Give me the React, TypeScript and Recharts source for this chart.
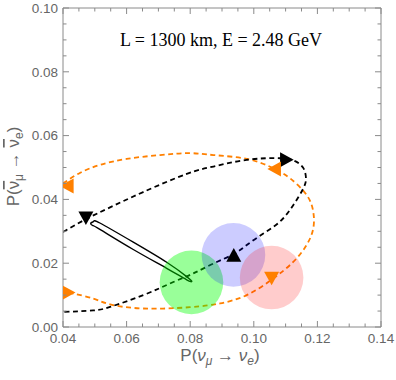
import React from "react";
import { ComposedChart, Line, Scatter, XAxis, YAxis } from "recharts";

// axis ticks (minor every 0.005, labels every 0.02)
const xTicks = [0.04, 0.045, 0.05, 0.055, 0.06, 0.065, 0.07, 0.075, 0.08, 0.085, 0.09, 0.095, 0.1, 0.105, 0.11, 0.115, 0.12, 0.125, 0.13, 0.135, 0.14];
const yTicks = [0, 0.005, 0.01, 0.015, 0.02, 0.025, 0.03, 0.035, 0.04, 0.045, 0.05, 0.055, 0.06, 0.065, 0.07, 0.075, 0.08, 0.085, 0.09, 0.095, 0.1];
const xLabelled = [0.04, 0.06, 0.08, 0.1, 0.12, 0.14];
const yLabelled = [0, 0.02, 0.04, 0.06, 0.08, 0.1];

// black dashed ellipse
const blackDashed = [
  { x: 0.04, y: 0.0298 }, { x: 0.0472, y: 0.0338 }, { x: 0.0548, y: 0.0375 }, { x: 0.0652, y: 0.0423 },
  { x: 0.0789, y: 0.048 }, { x: 0.0873, y: 0.0503 }, { x: 0.0978, y: 0.0524 }, { x: 0.1082, y: 0.0529 },
  { x: 0.113, y: 0.052 }, { x: 0.1156, y: 0.0498 }, { x: 0.1164, y: 0.0466 }, { x: 0.1156, y: 0.0435 },
  { x: 0.1124, y: 0.0382 }, { x: 0.1082, y: 0.033 }, { x: 0.103, y: 0.0293 }, { x: 0.0978, y: 0.0257 },
  { x: 0.0936, y: 0.0228 }, { x: 0.0873, y: 0.0199 }, { x: 0.081, y: 0.0168 }, { x: 0.0747, y: 0.0141 },
  { x: 0.0653, y: 0.01 }, { x: 0.0548, y: 0.0063 }, { x: 0.0495, y: 0.0052 }, { x: 0.04, y: 0.0047 },
];

// orange dashed ellipse
const orangeDashed = [
  { x: 0.04, y: 0.045 }, { x: 0.0453, y: 0.0483 }, { x: 0.0516, y: 0.0508 }, { x: 0.06, y: 0.0527 },
  { x: 0.0705, y: 0.0539 }, { x: 0.0799, y: 0.0545 }, { x: 0.0873, y: 0.0539 }, { x: 0.0978, y: 0.0527 },
  { x: 0.1061, y: 0.0498 }, { x: 0.1114, y: 0.0466 }, { x: 0.1166, y: 0.0414 }, { x: 0.1187, y: 0.0361 },
  { x: 0.1187, y: 0.0309 }, { x: 0.1166, y: 0.0257 }, { x: 0.1124, y: 0.0204 }, { x: 0.1061, y: 0.0152 },
  { x: 0.0978, y: 0.01 }, { x: 0.0894, y: 0.0074 }, { x: 0.0799, y: 0.0062 }, { x: 0.0653, y: 0.0058 },
  { x: 0.0548, y: 0.0071 }, { x: 0.0495, y: 0.0089 }, { x: 0.0432, y: 0.0105 }, { x: 0.04, y: 0.011 },
];

// thin solid ellipse
const blackSolid = [
  { x: 0.0621, y: 0.0266 }, { x: 0.0726, y: 0.0203 }, { x: 0.0789, y: 0.0158 }, { x: 0.0805, y: 0.0143 },
  { x: 0.0789, y: 0.0148 }, { x: 0.0726, y: 0.0184 }, { x: 0.0621, y: 0.0243 }, { x: 0.0516, y: 0.0306 },
  { x: 0.0494, y: 0.0318 }, { x: 0.0487, y: 0.0325 }, { x: 0.0496, y: 0.0331 }, { x: 0.0516, y: 0.0326 },
  { x: 0.0621, y: 0.0266 },
];

// shaded regions (radius 0.01)
const greenSpot = [{ x: 0.0804, y: 0.014 }];
const blueSpot = [{ x: 0.0936, y: 0.0226 }];
const redSpot = [{ x: 0.1056, y: 0.0155 }];
const spotRadius = 0.01;

// arrow markers
const blackMarkers = [
  { x: 0.0472, y: 0.0341, dir: "down" },
  { x: 0.0937, y: 0.0226, dir: "up" },
  { x: 0.1104, y: 0.0524, dir: "right" },
];
const orangeMarkers = [
  { x: 0.1064, y: 0.0495, dir: "left" },
  { x: 0.1056, y: 0.0152, dir: "down" },
  { x: 0.0412, y: 0.0442, dir: "left" },
  { x: 0.0418, y: 0.0108, dir: "right" },
];

const W = 396;
const H = 380;
const M = { top: 7, right: 14, left: 0, bottom: 0 };
const YW = 63;
const XH = 53;
const PX_PER_UNIT = (W - M.right - 1 - YW) / 0.1;

const FRAME = "#8a8a8a";
const LABEL = "#666";
const SANS = "'Liberation Sans', Arial, sans-serif";

const near = (arr: number[], v: number) => arr.some((t) => Math.abs(t - v) < 1e-9);

const BottomTick = (p: any) => {
  const major = near(xLabelled, p.payload.value);
  return (
    <g>
      <line x1={p.x} x2={p.x} y1={p.y} y2={p.y - (major ? 6 : 3.5)} stroke={FRAME} />
      {major && (
        <text x={p.x} y={p.y + 16} textAnchor="middle" fill={LABEL} fontSize={13.5} fontFamily={SANS}>
          {p.payload.value.toFixed(2)}
        </text>
      )}
    </g>
  );
};
const TopTick = (p: any) => {
  const major = near(xLabelled, p.payload.value);
  return <line x1={p.x} x2={p.x} y1={p.y} y2={p.y + (major ? 6 : 3.5)} stroke={FRAME} />;
};
const LeftTick = (p: any) => {
  const major = near(yLabelled, p.payload.value);
  return (
    <g>
      <line x1={p.x} x2={p.x + (major ? 6 : 3.5)} y1={p.y} y2={p.y} stroke={FRAME} />
      {major && (
        <text x={p.x - 5} y={p.y} dy="0.36em" textAnchor="end" fill={LABEL} fontSize={13.5} fontFamily={SANS}>
          {p.payload.value.toFixed(2)}
        </text>
      )}
    </g>
  );
};
const RightTick = (p: any) => {
  const major = near(yLabelled, p.payload.value);
  return <line x1={p.x} x2={p.x - (major ? 6 : 3.5)} y1={p.y} y2={p.y} stroke={FRAME} />;
};

const XTitle = (p: any) => {
  const vb = p.viewBox;
  return (
    <g>
      <text x={vb.x + vb.width / 2 - 2} y={vb.y + 34} textAnchor="middle" fill={LABEL} fontSize={17} fontFamily={SANS}>
        P(<tspan fontStyle="italic">ν</tspan>
        <tspan fontStyle="italic" fontSize={12} dy={4}>μ</tspan>
        <tspan dy={-4}> → </tspan>
        <tspan fontStyle="italic">ν</tspan>
        <tspan fontStyle="italic" fontSize={12} dy={4}>e</tspan>
        <tspan dy={-4}>)</tspan>
      </text>
      {/* annotation inside the frame, placed relative to the plot top */}
      <text x={vb.x + vb.width / 2 - 1} y={vb.y - 281} textAnchor="middle" fill="#000" fontSize={18} fontFamily="'Liberation Serif', 'Times New Roman', serif">
        L = 1300 km, E = 2.48 GeV
      </text>
    </g>
  );
};
const YTitle = (p: any) => {
  const vb = p.viewBox;
  const cx = 19;
  const cy = vb.y + vb.height / 2 - 1;
  return (
    <text x={cx} y={cy} transform={`rotate(-90 ${cx} ${cy})`} textAnchor="middle" fill={LABEL} fontSize={17} fontFamily={SANS}>
      P(<tspan style={{ textDecoration: "overline" }}>ν</tspan>
      <tspan fontSize={12} dy={4}>μ</tspan>
      <tspan dy={-4}> → </tspan>
      <tspan style={{ textDecoration: "overline" }}>ν</tspan>
      <tspan fontSize={12} dy={4}>e</tspan>
      <tspan dy={-4}>)</tspan>
    </text>
  );
};

const spot = (fill: string, opacity: number) => (p: any) => (
  <circle cx={p.cx} cy={p.cy} r={spotRadius * PX_PER_UNIT} fill={fill} fillOpacity={opacity} />
);

const ANGLE: Record<string, number> = { up: 0, right: 90, down: 180, left: 270 };
const marker = (fill: string) => (p: any) => {
  const { cx, cy } = p;
  const a = ANGLE[p.payload.dir] ?? 0;
  const w = 7.5;
  const h = 6.8;
  return (
    <polygon
      points={`${cx},${cy - h} ${cx + w},${cy + h} ${cx - w},${cy + h}`}
      transform={`rotate(${a} ${cx} ${cy})`}
      fill={fill}
    />
  );
};

const common = {
  type: "number" as const,
  interval: 0 as const,
  allowDataOverflow: true,
  tickLine: false,
  tickSize: 0,
  tickMargin: 0,
  axisLine: { stroke: FRAME },
};

export default function App() {
  return (
    <div style={{ position: "absolute", left: 0, top: 0, background: "#fff" }}>
      <ComposedChart width={W} height={H} margin={M}>
        <XAxis {...common} dataKey="x" domain={[0.04, 0.14]} ticks={xTicks} tick={<BottomTick />} height={XH} label={<XTitle />} />
        <XAxis {...common} xAxisId="top" orientation="top" dataKey="x" domain={[0.04, 0.14]} ticks={xTicks} tick={<TopTick />} height={1} />
        <YAxis {...common} dataKey="y" domain={[0, 0.1]} ticks={yTicks} tick={<LeftTick />} width={YW} label={<YTitle />} />
        <YAxis {...common} yAxisId="right" orientation="right" dataKey="y" domain={[0, 0.1]} ticks={yTicks} tick={<RightTick />} width={1} />
        <Line data={orangeDashed} dataKey="y" type="natural" stroke="#ff8000" strokeWidth={1.8} strokeDasharray="5 3.5" dot={false} isAnimationActive={false} />
        <Line data={blackDashed} dataKey="y" type="natural" stroke="#000" strokeWidth={1.8} strokeDasharray="5 3.5" dot={false} isAnimationActive={false} />
        <Line data={blackSolid} dataKey="y" type="natural" stroke="#000" strokeWidth={1.4} dot={false} isAnimationActive={false} />
        <Scatter data={greenSpot} dataKey="y" shape={spot("#00ff00", 0.4)} isAnimationActive={false} />
        <Scatter data={blueSpot} dataKey="y" shape={spot("#0000ff", 0.2)} isAnimationActive={false} />
        <Scatter data={redSpot} dataKey="y" shape={spot("#ff0000", 0.2)} isAnimationActive={false} />
        <Scatter data={blackMarkers} dataKey="y" shape={marker("#000")} isAnimationActive={false} />
        <Scatter data={orangeMarkers} dataKey="y" shape={marker("#ff8000")} isAnimationActive={false} />
        {/* bind an invisible copy to the top/right axes so they are drawn */}
        <Line data={blackSolid} dataKey="y" xAxisId="top" yAxisId="right" stroke="none" dot={false} legendType="none" isAnimationActive={false} />
      </ComposedChart>
    </div>
  );
}
